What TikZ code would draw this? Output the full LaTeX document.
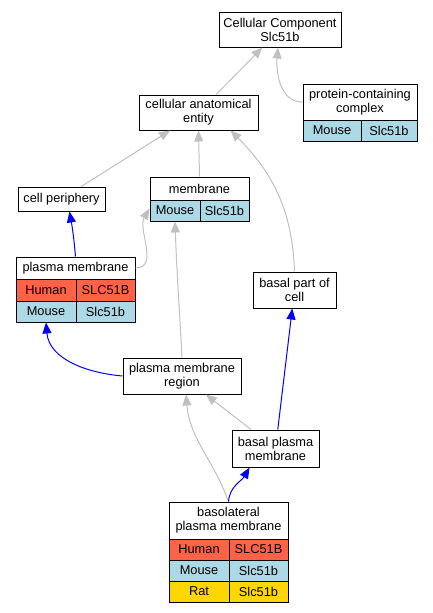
\documentclass[tikz,border=0pt]{standalone}
\usepackage{fontspec}
\setmainfont{Liberation Sans}
\usetikzlibrary{arrows.meta}
\definecolor{isagray}{HTML}{C0C0C0}
\definecolor{human}{HTML}{FF6347}
\definecolor{mouse}{HTML}{ADD8E6}
\definecolor{rat}{HTML}{FFD700}
\newcommand{\lbl}{\fontsize{12.8}{14}\selectfont}
\tikzset{
  term/.style={draw, fill=white, line width=1pt, inner sep=0pt, align=center, font=\lbl},
  cellbox/.style={draw, line width=1pt, inner sep=0pt, font=\lbl, minimum height=21pt},
  isa/.style={draw=isagray, line width=1pt, -{Triangle[length=11pt,width=9pt]}},
  partof/.style={draw=blue, line width=1pt, -{Triangle[length=11pt,width=9pt]}},
}
\begin{document}
\begin{tikzpicture}[x=1pt,y=-1pt]
        \useasboundingbox (0,0) rectangle (432,613);
        \node [term,minimum width=122pt,minimum height=35pt] (cc) at (280,29.5) {Cellular Component\\Slc51b};
        \node [term,minimum width=119pt,minimum height=35pt] (cae) at (198.5,112.5) {cellular anatomical\\entity};
        \node [term,minimum width=114pt,minimum height=36pt] (pcc) at (360,102) {protein-containing\\complex};
        \node [cellbox,fill=mouse,minimum width=58pt] (pcc-m1) at (332,130.5) {Mouse};
        \node [cellbox,fill=mouse,minimum width=56pt] (pcc-m2) at (389,130.5) {Slc51b};
        \node [term,minimum width=87pt,minimum height=24pt] (cp) at (61.5,199) {cell periphery};
        \node [term,minimum width=99pt,minimum height=23pt] (mem) at (199.5,188.5) {membrane};
        \node [cellbox,fill=mouse,minimum width=50pt] (mem-m1) at (175,210.5) {Mouse};
        \node [cellbox,fill=mouse,minimum width=49pt] (mem-m2) at (224.5,210.5) {Slc51b};
        \node [term,minimum width=119pt,minimum height=22pt] (pm) at (75.5,268) {plasma membrane};
        \node [cellbox,fill=human,minimum width=60pt,minimum height=22pt] (pm-h1) at (46,290) {Human};
        \node [cellbox,fill=human,minimum width=59pt,minimum height=22pt] (pm-h2) at (105.5,290) {SLC51B};
        \node [cellbox,fill=mouse,minimum width=60pt] (pm-m1) at (46,311.5) {Mouse};
        \node [cellbox,fill=mouse,minimum width=59pt] (pm-m2) at (105.5,311.5) {Slc51b};
        \node [term,minimum width=83pt,minimum height=36pt] (bpc) at (294.5,290) {basal part of\\cell};
        \node [term,minimum width=118pt,minimum height=36pt] (pmr) at (182,376) {plasma membrane\\region};
        \node [term,minimum width=87pt,minimum height=37pt] (bpm) at (275.5,448.5) {basal plasma\\membrane};
        \node [term,minimum width=119pt,minimum height=37pt] (blpm) at (228.5,520.5) {basolateral\\plasma membrane};
        \node [cellbox,fill=human,minimum width=60pt] (blpm-h1) at (199,549.5) {Human};
        \node [cellbox,fill=human,minimum width=59pt] (blpm-h2) at (258.5,549.5) {SLC51B};
        \node [cellbox,fill=mouse,minimum width=60pt] (blpm-m1) at (199,570.5) {Mouse};
        \node [cellbox,fill=mouse,minimum width=59pt] (blpm-m2) at (258.5,570.5) {Slc51b};
        \node [cellbox,fill=rat,minimum width=60pt] (blpm-r1) at (199,591.5) {Rat};
        \node [cellbox,fill=rat,minimum width=59pt] (blpm-r2) at (258.5,591.5) {Slc51b};
        \draw [isa] (cae) -- (cc);
        \draw [isa] (pcc.west) to[out=180,in=-95] ([xshift=-2pt]cc.south);
        \draw [isa] (cp) -- (cae);
        \draw [isa] (mem.north) -- (cae.south);
        \draw [isa] (bpc.north) to[out=92,in=-45] ([xshift=-28pt]cae.south east);
        \draw [partof] (pm.north) to[out=95,in=-80] ([xshift=8pt]cp.south);
        \draw [isa] (pm.east) to[out=0,in=-120] ([yshift=2pt]mem-m1.west);
        \draw [isa] (pmr.north) to[out=93,in=-88] (mem-m1.south);
        \draw [partof] (pmr.west) to[out=175,in=-85] (pm-m1.south);
        \draw [partof] (bpm) -- (bpc);
        \draw [isa] (bpm) -- (pmr);
        \draw [isa] (blpm.north) to[out=110,in=-85] ([xshift=4pt]pmr.south);
        \draw [partof] (blpm.north) to[out=85,in=-120] ([xshift=-26pt]bpm.south);
\end{tikzpicture}
\end{document}
